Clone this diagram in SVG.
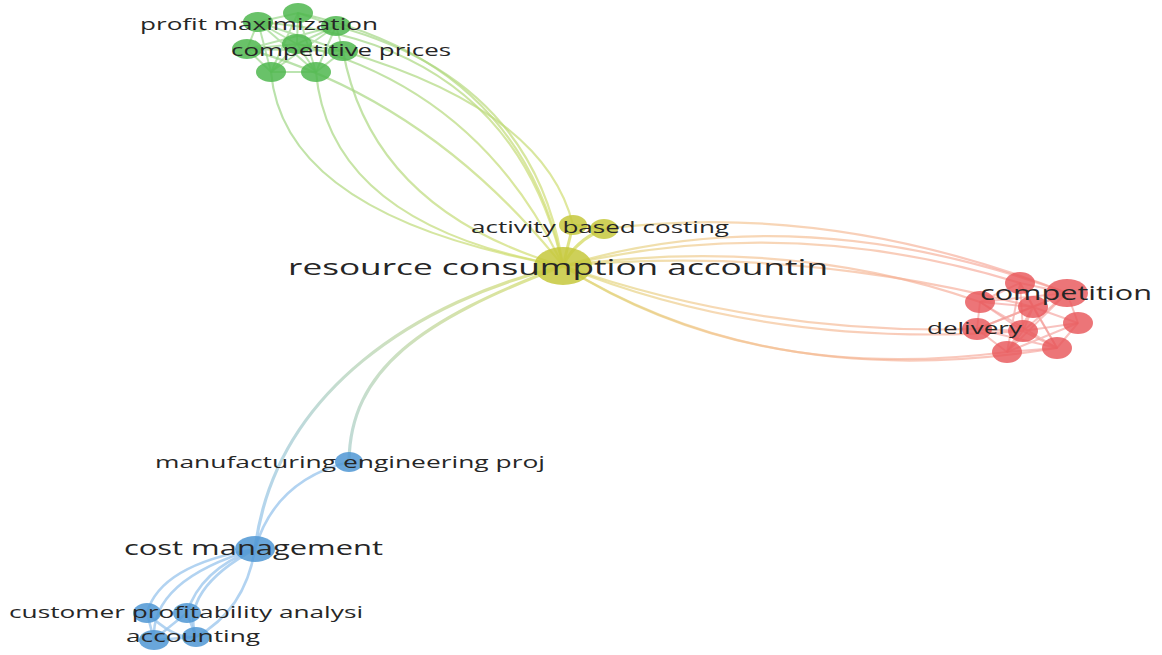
<svg xmlns="http://www.w3.org/2000/svg" width="1162" height="655" viewBox="0 0 1162 655">
<style>
.lbl{font-family:"Open Sans","Noto Sans","DejaVu Sans",sans-serif;fill:#262626;}
.s17{font-size:17px;}
.s20{font-size:20px;}
.s22{font-size:22px;}
.e{fill:none;stroke-width:2.2;stroke-linecap:round;}
.eg{stroke:url(#gY);stroke-opacity:0.7;}
.er{stroke:url(#yR);stroke-opacity:0.65;}
.eb{stroke:url(#yB);stroke-opacity:0.8;stroke-width:3.2;}
.gi{stroke:#8ed27c;stroke-opacity:0.6;stroke-width:2;fill:none;}
.ri{stroke:#f39a94;stroke-opacity:0.6;stroke-width:2;fill:none;}
.bi{stroke:#9fc8ee;stroke-opacity:0.8;stroke-width:2.6;fill:none;}
.yi{stroke:#d7dc6a;stroke-opacity:0.8;stroke-width:3;fill:none;}
.ng{fill:#4fb74f;fill-opacity:0.85;}
.ny{fill:#c6c83c;fill-opacity:0.85;}
.nr{fill:#e8575a;fill-opacity:0.82;}
.nb{fill:#4f97d4;fill-opacity:0.85;}
</style>
<defs>
<linearGradient id="gY" gradientUnits="userSpaceOnUse" x1="300" y1="50" x2="563" y2="266">
<stop offset="0" stop-color="#9bd588"/><stop offset="1" stop-color="#d9df70"/>
</linearGradient>
<linearGradient id="yR" gradientUnits="userSpaceOnUse" x1="563" y1="266" x2="1030" y2="310">
<stop offset="0" stop-color="#dcd870"/><stop offset="0.35" stop-color="#f3c48e"/><stop offset="1" stop-color="#f7a29a"/>
</linearGradient>
<linearGradient id="yB" gradientUnits="userSpaceOnUse" x1="563" y1="266" x2="255" y2="549">
<stop offset="0" stop-color="#d9df70"/><stop offset="0.45" stop-color="#bfd8b4"/><stop offset="1" stop-color="#9cc8f0"/>
</linearGradient>
</defs>
<rect width="1162" height="655" fill="#ffffff"/>
<g id="connectors">
<path class="e eg" d="M271,72 Q284,217 563,266"/>
<path class="e eg" d="M316,72 Q330,225 563,266"/>
<path class="e eg" d="M343,51 Q372,210 563,266"/>
<path class="e eg" d="M247,49 Q430,100 563,266"/>
<path class="e eg" d="M297,44 Q480,90 563,266"/>
<path class="e eg" d="M298,13 Q520,60 563,266"/>
<path class="e eg" d="M336,26 Q535,80 563,266"/>
<path class="e eg" d="M258,22 Q510,40 563,266"/>
<path class="e eg" d="M343,51 Q545,110 573,225"/>
<path class="e er" d="M563,266 Q800,195 1067,293"/>
<path class="e er" d="M563,266 Q790,212 1020,283"/>
<path class="e er" d="M563,266 Q790,235 980,302"/>
<path class="e er" d="M563,266 Q800,245 1033,307"/>
<path class="e er" d="M563,266 Q760,335 977,329"/>
<path class="e er" d="M563,266 Q770,350 1023,331"/>
<path class="e er" d="M563,266 Q750,385 1007,352"/>
<path class="e er" d="M563,266 Q770,395 1057,348"/>
<path class="e er" d="M604,229 Q830,200 1067,293"/>
<path class="e eb" d="M563,266 C420,300 275,390 255,549"/>
<path class="e eb" d="M563,266 C420,320 350,370 349,462"/>
<path class="bi" d="M349,462 Q275,480 255,549"/>
<path class="bi" d="M255,549 Q160,565 147,613"/>
<path class="bi" d="M255,549 Q200,570 187,613"/>
<path class="bi" d="M255,549 Q150,580 154,640"/>
<path class="bi" d="M255,549 Q245,610 196,637"/>
<path class="bi" d="M255,549 Q180,590 196,637"/>
<path class="bi" d="M147,613 L154,640"/>
<path class="bi" d="M147,613 Q175,640 196,637"/>
<path class="bi" d="M187,613 Q165,630 154,640"/>
<path class="bi" d="M154,640 L196,637"/>
<path class="bi" d="M187,613 L196,637"/>
<path class="yi" d="M573,225 L563,266"/>
<path class="yi" d="M604,229 Q575,240 563,266"/>
<path class="yi" d="M573,225 L604,229"/>
<path class="gi" d="M258,22 L298,13 L336,26 L343,51 L316,72 L271,72 L247,49 Z"/>
<path class="gi" d="M258,22 L297,44 L336,26 M247,49 L297,44 L343,51 M271,72 L297,44 L316,72 M298,13 L297,44"/>
<path class="gi" d="M258,22 L271,72 M258,22 L316,72 M336,26 L271,72 M336,26 L316,72 M247,49 L343,51 M258,22 L343,51 M336,26 L247,49 M298,13 L271,72 M298,13 L316,72"/>
<path class="ri" d="M1020,283 L1067,293 L1078,323 L1057,348 L1007,352 L977,329 L980,302 Z"/>
<path class="ri" d="M1033,307 L1020,283 M1033,307 L1067,293 M1033,307 L1078,323 M1033,307 L1057,348 M1033,307 L1007,352 M1033,307 L977,329 M1033,307 L980,302 M1023,331 L1033,307"/>
<path class="ri" d="M1023,331 L980,302 M1023,331 L1067,293 M1023,331 L1057,348 M1023,331 L1007,352 M1023,331 L977,329 M1023,331 L1078,323 M1023,331 L1020,283"/>
<path class="ri" d="M980,302 L1067,293 M977,329 L1067,293 M1007,352 L1067,293 M1020,283 L1057,348 M980,302 L1057,348 M977,329 L1057,348 M1020,283 L1007,352 M1078,323 L1007,352"/>
</g>
<g id="n-green-1"><ellipse class="ng" cx="298" cy="13" rx="15" ry="10"/></g>
<g id="n-green-3"><ellipse class="ng" cx="336" cy="26" rx="15" ry="10"/></g>
<g id="n-green-4"><ellipse class="ng" cx="247" cy="49" rx="15" ry="10"/></g>
<g id="n-green-5"><ellipse class="ng" cx="297" cy="44" rx="15" ry="10"/></g>
<g id="n-green-7"><ellipse class="ng" cx="271" cy="72" rx="15" ry="10"/></g>
<g id="n-green-8"><ellipse class="ng" cx="316" cy="72" rx="15" ry="10"/></g>
<g id="n-yellow-2"><ellipse class="ny" cx="573" cy="225" rx="14" ry="10"/></g>
<g id="n-red-1"><ellipse class="nr" cx="1020" cy="283" rx="15" ry="11"/></g>
<g id="n-red-3"><ellipse class="nr" cx="980" cy="302" rx="15" ry="11"/></g>
<g id="n-red-4"><ellipse class="nr" cx="1033" cy="307" rx="15" ry="11"/></g>
<g id="n-red-5"><ellipse class="nr" cx="1078" cy="323" rx="15" ry="11"/></g>
<g id="n-red-7"><ellipse class="nr" cx="1023" cy="331" rx="15" ry="11"/></g>
<g id="n-red-8"><ellipse class="nr" cx="1007" cy="352" rx="15" ry="11"/></g>
<g id="n-red-9"><ellipse class="nr" cx="1057" cy="348" rx="15" ry="11"/></g>
<g id="n-blue-5"><ellipse class="nb" cx="147" cy="613" rx="14" ry="10"/></g>
<g id="n-blue-6"><ellipse class="nb" cx="154" cy="640" rx="15" ry="10"/></g>
<g id="n-profit-maximization"><ellipse class="ng" cx="258" cy="22" rx="15" ry="10"/>
<text class="lbl s17" x="140" y="30" textLength="238" lengthAdjust="spacingAndGlyphs">profit maximization</text></g>
<g id="n-competitive-prices"><ellipse class="ng" cx="343" cy="51" rx="15" ry="10"/>
<text class="lbl s17" x="231" y="56" textLength="220" lengthAdjust="spacingAndGlyphs">competitive prices</text></g>
<g id="n-resource-consumption-accounting"><ellipse class="ny" cx="563" cy="266" rx="29" ry="19"/>
<text class="lbl s22" x="288" y="275" textLength="540" lengthAdjust="spacingAndGlyphs">resource consumption accountin</text></g>
<g id="n-activity-based-costing"><ellipse class="ny" cx="604" cy="229" rx="14" ry="10"/>
<text class="lbl s17" x="471" y="233" textLength="258" lengthAdjust="spacingAndGlyphs">activity based costing</text></g>
<g id="n-delivery"><ellipse class="nr" cx="977" cy="329" rx="15" ry="11"/>
<text class="lbl s17" x="927" y="334" textLength="95" lengthAdjust="spacingAndGlyphs">delivery</text></g>
<g id="n-competition"><ellipse class="nr" cx="1067" cy="293" rx="21" ry="14"/>
<text class="lbl s20" x="980" y="300" textLength="172" lengthAdjust="spacingAndGlyphs">competition</text></g>
<g id="n-manufacturing-engineering"><ellipse class="nb" cx="349" cy="462" rx="14" ry="10"/>
<text class="lbl s17" x="155" y="468" textLength="390" lengthAdjust="spacingAndGlyphs">manufacturing engineering proj</text></g>
<g id="n-cost-management"><ellipse class="nb" cx="255" cy="549" rx="20" ry="13"/>
<text class="lbl s20" x="124" y="555" textLength="259" lengthAdjust="spacingAndGlyphs">cost management</text></g>
<g id="n-customer-profitability"><ellipse class="nb" cx="187" cy="613" rx="14" ry="10"/>
<text class="lbl s17" x="9" y="618" textLength="354" lengthAdjust="spacingAndGlyphs">customer profitability analysi</text></g>
<g id="n-accounting"><ellipse class="nb" cx="196" cy="637" rx="14" ry="10"/>
<text class="lbl s17" x="126" y="642" textLength="134" lengthAdjust="spacingAndGlyphs">accounting</text></g>
</svg>
